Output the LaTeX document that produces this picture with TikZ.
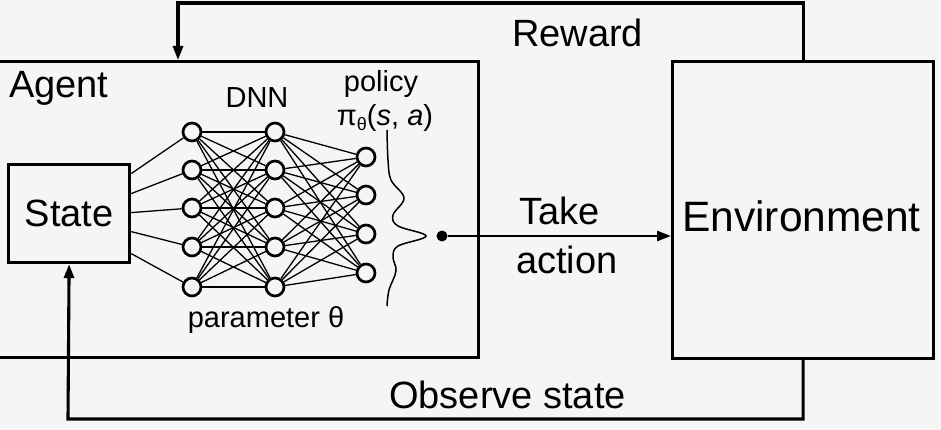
\documentclass[tikz,border=0pt]{standalone}
\usepackage{fontspec}
\setmainfont{Liberation Sans}
\usetikzlibrary{arrows.meta,calc}
\definecolor{bg}{RGB}{245,245,245}
\begin{document}
\begin{tikzpicture}[x=1pt,y=-1pt,
 box/.style={draw, line width=3.2pt, inner sep=0pt, rectangle},
 neuron/.style={draw, circle, line width=2.7pt, minimum size=18pt, inner sep=0pt, fill=bg},
 syn/.style={line width=1.3pt},
 link/.style={line width=3.1pt},
 arr/.style={link, -{Triangle[length=14pt,width=10pt]}},
 big/.style={font=\fontsize{38}{40}\selectfont, inner sep=0pt},
 huge/.style={font=\fontsize{42.5}{44}\selectfont, inner sep=0pt},
 small/.style={font=\fontsize{29}{31}\selectfont, inner sep=0pt},
]
\fill[bg] (0,0) rectangle (941,430);
\useasboundingbox (0,0) rectangle (941,430);
\clip (0,0) rectangle (941,430);

% boxes
\node[box, anchor=north west, minimum width=482pt, minimum height=296pt] (agent) at (-5,60) {};
\node[box, anchor=north west, minimum width=261pt, minimum height=297pt] (env) at (671,60) {};
\node[box, anchor=north west, minimum width=121pt, minimum height=98pt, big] (state) at (7,163) {State};

% labels
\node[big, anchor=base west] (agentlbl) at (9,98) {Agent};
\node[huge, anchor=base west] (envlbl) at (682,232) {Environment};
\node[big, anchor=base west] (rewardlbl) at (512,47) {Reward};
\node[big, anchor=base west] (obslbl) at (389,408) {Observe state};
\node[big, anchor=base west] (takelbl) at (519,225) {Take};
\node[big, anchor=base west] (actionlbl) at (516,273) {action};
\node[small, anchor=base] (dnnlbl) at (257,108) {DNN};
\node[small, anchor=base] (policylbl) at (381,92) {policy};
\node[small, anchor=base] (pilbl) at (385,126) {π\raisebox{-5pt}{\fontsize{18}{18}\selectfont θ}(\textit{s}, \textit{a})};
\node[small, anchor=base] (paramlbl) at (266,327) {parameter θ};

% neurons
\foreach \i/\y in {1/132,2/170,3/208,4/247,5/287} {
  \node[neuron] (a\i) at (192,\y) {};
  \node[neuron] (b\i) at (275,\y) {};
}
\foreach \i/\y in {1/157,2/195,3/234,4/273}
  \node[neuron] (c\i) at (366,\y) {};

% synapses
\foreach \i/\d in {1/-40,2/-20,3/-1,4/18,5/40}
  \draw[syn] ($(state.east)+(0,\d)$) -- (a\i);
\foreach \i in {1,...,5}
  \foreach \j in {1,...,5}
    \draw[syn] (a\i) -- (b\j);
\foreach \i in {1,...,5}
  \foreach \j in {1,...,4}
    \draw[syn] (b\i) -- (c\j);

% policy wave
\draw[line width=1.5pt] plot[smooth, tension=0.6] coordinates {(387,130) (388,160) (391,180) (404,198) (393,215) (398,226) (426,236) (398,246) (393,257) (396,271) (389,290) (387,306)};

% action
\node[circle, fill=black, inner sep=0pt, minimum size=11pt] (dot) at (442,236) {};
\draw[arr, line width=2.7pt] (dot) -- (dot -| env.west);

% reward loop
\coordinate (rtop) at (178,3);
\coordinate (rin) at (178,60);
\draw[arr] (env.north) |- (rtop) -- (rin);

% observe loop
\coordinate (obot) at (68,419);
\draw[arr] (env.south) |- (obot) -- (state.south);
\end{tikzpicture}
\end{document}
